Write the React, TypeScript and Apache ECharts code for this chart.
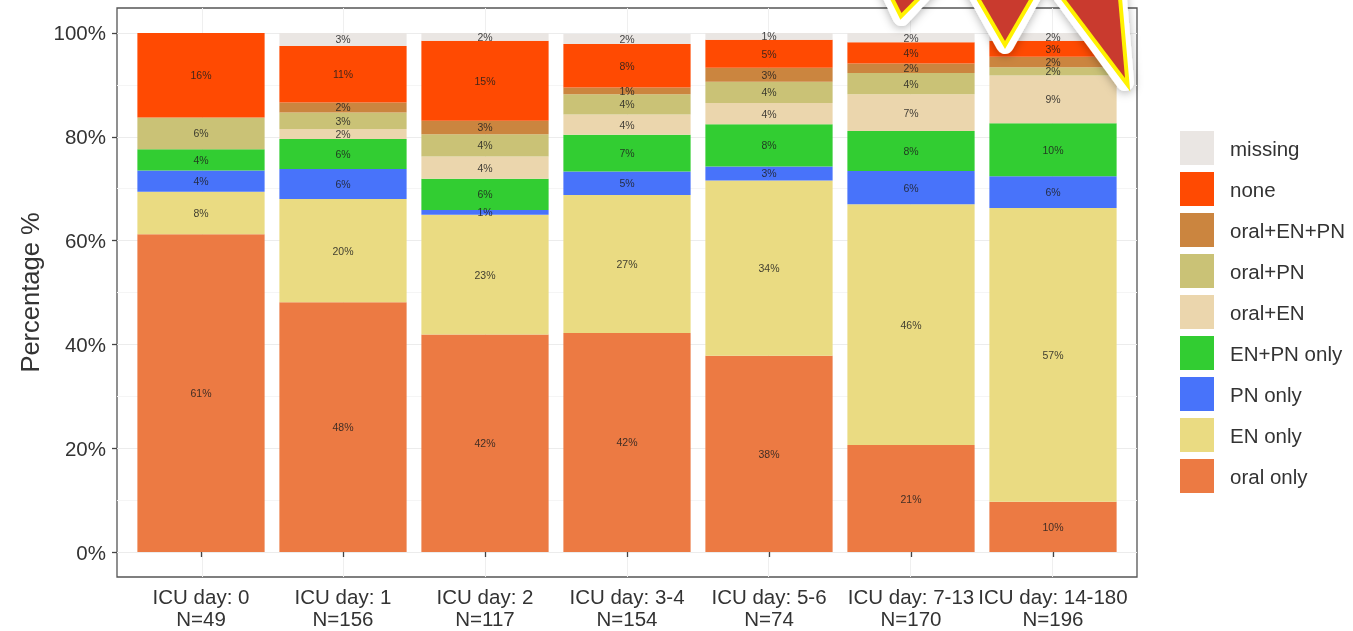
import React, { useEffect, useRef } from "react";
import * as echarts from "echarts";

const categories = ["ICU day: 0", "ICU day: 1", "ICU day: 2", "ICU day: 3-4", "ICU day: 5-6", "ICU day: 7-13", "ICU day: 14-180"];
const sampleSizes = ["N=49", "N=156", "N=117", "N=154", "N=74", "N=170", "N=196"];

const oralOnly = [61.2, 48.1, 41.9, 42.2, 37.8, 20.6, 9.7];
const enOnly = [8.2, 19.9, 23.1, 26.6, 33.8, 46.4, 56.6];
const pnOnly = [4.1, 5.8, 0.9, 4.5, 2.7, 6.4, 6.1];
const enPnOnly = [4.1, 5.8, 6.0, 7.1, 8.1, 7.7, 10.2];
const oralEn = [0, 1.9, 4.3, 3.9, 4.1, 7.1, 9.2];
const oralPn = [6.1, 3.2, 4.3, 3.9, 4.1, 4.1, 1.6];
const oralEnPn = [0, 1.9, 2.6, 1.3, 2.7, 1.8, 2.0];
const none = [16.3, 10.9, 15.4, 8.4, 5.4, 4.1, 3.1];
const missing = [0, 2.6, 1.7, 1.9, 1.4, 1.8, 1.5];

const stackOrder = [
  { name: "oral only", values: oralOnly, color: "#EC7A43" },
  { name: "EN only", values: enOnly, color: "#EADB82" },
  { name: "PN only", values: pnOnly, color: "#4873FA" },
  { name: "EN+PN only", values: enPnOnly, color: "#32CD32" },
  { name: "oral+EN", values: oralEn, color: "#EBD6AD" },
  { name: "oral+PN", values: oralPn, color: "#CAC276" },
  { name: "oral+EN+PN", values: oralEnPn, color: "#CB853F" },
  { name: "none", values: none, color: "#FF4A02" },
  { name: "missing", values: missing, color: "#EAE6E3" },
];
const legendOrder = ["missing", "none", "oral+EN+PN", "oral+PN", "oral+EN", "EN+PN only", "PN only", "EN only", "oral only"];
const majorTicks = [0, 20, 40, 60, 80, 100];
const minorTicks = [10, 30, 50, 70, 90];
const categoryPositions = [1, 2, 3, 4, 5, 6, 7];

const FONT = "'Liberation Sans', Arial, sans-serif";
const starOutlines = [
  [[876, -38], [901.5, 13], [952, -38]],
  [[958, -40], [1005, 41], [1052, -40]],
  [[1030, -48], [1125, 78], [1114, -48]],
];

function starGraphics() {
  const shapes: any[] = [];
  starOutlines.forEach((points) => {
    const outer = points.map((p, i) => (i === 1 ? [p[0], p[1] + 4] : p));
    shapes.push({
      type: "polygon", silent: true, z: 100,
      shape: { points: outer },
      style: { fill: "#fff", stroke: "#fff", lineWidth: 18, lineJoin: "round", shadowBlur: 10, shadowColor: "rgba(0,0,0,0.3)", shadowOffsetY: 2 },
    });
    shapes.push({
      type: "polygon", silent: true, z: 101,
      shape: { points },
      style: { fill: "#FFF200", stroke: "#FFF200", lineWidth: 8, lineJoin: "miter" },
    });
    shapes.push({
      type: "polygon", silent: true, z: 102,
      shape: { points },
      style: { fill: "#C93A2E" },
    });
  });
  return shapes;
}

export default function App() {
  const ref = useRef<HTMLDivElement>(null);
  useEffect(() => {
    document.body.style.margin = "0";
    document.body.style.overflow = "hidden";
    const chart = echarts.init(ref.current!, undefined, { renderer: "svg" });
    chart.setOption({
      animation: false,
      backgroundColor: "#fff",
      textStyle: { fontFamily: FONT },
      grid: [
        // panel frame with its expansion around the data range
        { left: 117, right: 216, top: 8, bottom: 54, show: true, borderColor: "#555", borderWidth: 1.3, backgroundColor: "#fff", z: 0 },
        // data area: bars span 0-100% and the seven category bands
        { left: 130, right: 229, top: 33, bottom: 79, show: false, z: 2 },
      ],
      legend: {
        orient: "vertical", left: 1180, top: 131, padding: 0,
        itemWidth: 34, itemHeight: 34, itemGap: 7,
        icon: "rect", selectedMode: false,
        data: legendOrder,
        textStyle: { fontFamily: FONT, fontSize: 20.5, color: "#333", padding: [0, 0, 0, 11] },
      },
      xAxis: [
        {
          type: "value", gridIndex: 0, min: 0.4, max: 7.6,
          axisLine: { show: false },
          axisLabel: { show: false },
          axisTick: { show: false, customValues: categoryPositions },
          splitLine: { show: true, lineStyle: { color: "#EFEFEF", width: 1 } },
        },
        {
          type: "category", gridIndex: 1, data: categories, offset: 25,
          axisLine: { show: false },
          axisTick: { show: true, alignWithLabel: true, length: 5, lineStyle: { color: "#444", width: 1.3 } },
          axisLabel: {
            interval: 0,
            formatter: (v: string, i: number) => `${v}\n${sampleSizes[i]}`,
            fontFamily: FONT, fontSize: 20.5, lineHeight: 22, color: "#333", margin: 8, hideOverlap: false,
          },
        },
      ],
      yAxis: [
        {
          type: "value", gridIndex: 0, min: -4.8, max: 104.8,
          name: "Percentage %", nameLocation: "middle", nameGap: 74, nameRotate: 90,
          nameTextStyle: { fontFamily: FONT, fontSize: 25.5, color: "#333" },
          axisLine: { show: false },
          axisTick: { show: true, length: 5, customValues: majorTicks, lineStyle: { color: "#444", width: 1.3 } },
          splitLine: { show: true, lineStyle: { color: "#ECECEC", width: 1 } },
          axisLabel: {
            customValues: majorTicks,
            formatter: (v: number) => `${v}%`,
            fontFamily: FONT, fontSize: 20.5, color: "#333", margin: 11,
          },
        },
        {
          type: "value", gridIndex: 0, min: -4.8, max: 104.8, position: "left",
          axisLine: { show: false },
          axisLabel: { show: false },
          axisTick: { show: false, customValues: minorTicks },
          splitLine: { show: true, lineStyle: { color: "#F5F5F5", width: 1 } },
        },
        {
          type: "value", gridIndex: 1, min: 0, max: 100, show: false,
        },
      ],
      series: stackOrder.map((s) => ({
        name: s.name,
        type: "bar",
        stack: "share",
        xAxisIndex: 1,
        yAxisIndex: 2,
        barWidth: "89.6%",
        itemStyle: { color: s.color },
        label: {
          show: true,
          position: "inside",
          fontFamily: FONT,
          fontSize: 10.5,
          color: "rgba(30,30,30,0.85)",
          formatter: (p: any) => (p.value > 0 ? `${Math.round(p.value)}%` : ""),
        },
        labelLayout: { hideOverlap: false },
        data: s.values,
      })),
      graphic: starGraphics(),
    });
    return () => chart.dispose();
  }, []);
  return <div ref={ref} style={{ width: 1353, height: 631, filter: "blur(0.45px)" }} />;
}
